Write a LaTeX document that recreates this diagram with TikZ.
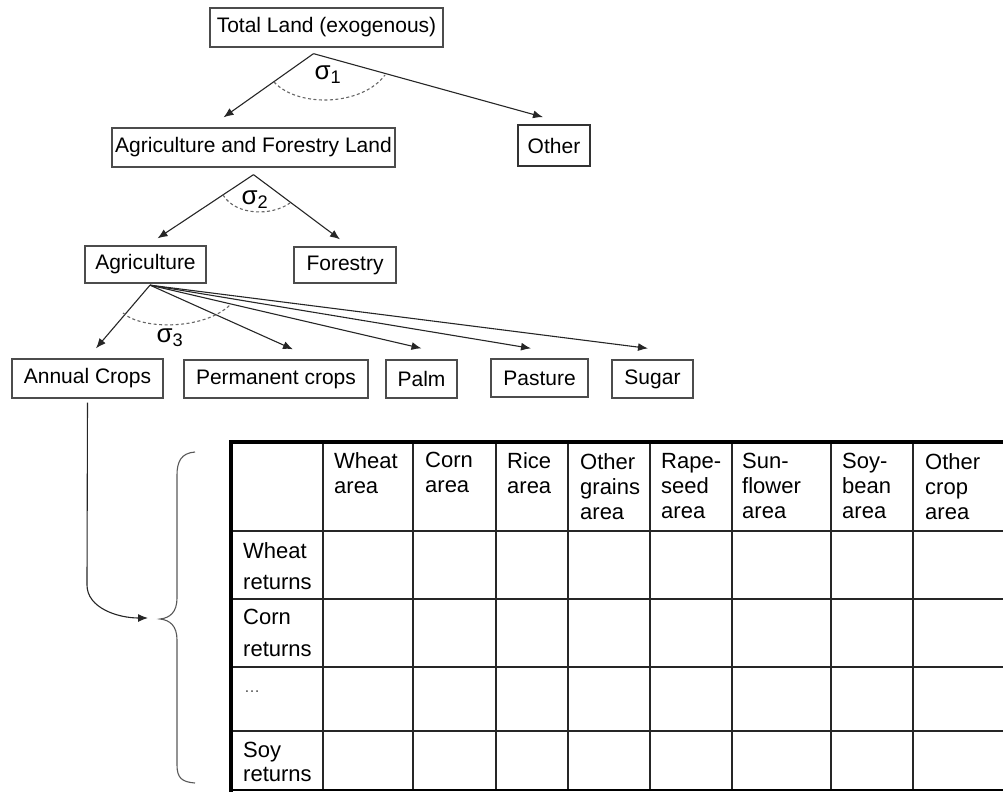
\documentclass[tikz,border=0pt]{standalone}
\usepackage{fontspec}
\setmainfont{Liberation Sans}
\usetikzlibrary{arrows.meta,calc}
\begin{document}
\begin{tikzpicture}[x=1pt,y=-1pt,
  box/.style={draw=black!70,line width=1.3pt,fill=white,inner sep=0pt,
    font=\fontsize{21}{25}\selectfont},
  link/.style={draw=black!85,line width=1.1pt,-{Latex[length=10pt,width=8pt]}},
  elas/.style={draw=black!60,line width=1.1pt,dash pattern=on 3pt off 2.5pt},
  sig/.style={font=\fontsize{26}{28}\selectfont,inner sep=0pt},
  cell/.style={anchor=north west,inner sep=0pt,align=left,
    font=\fontsize{22}{25}\selectfont},
  grid/.style={black!85,line width=1.2pt},
  frame/.style={black,line width=4.5pt}
]
\useasboundingbox (0,0) rectangle (1003,792);

% ---- land-use nesting tree ----
\node[box,minimum width=233pt,minimum height=39pt] (total)    at (326.5,27.5) {Total Land (exogenous)};
\node[box,minimum width=283pt,minimum height=39pt] (afl)      at (253.5,147.5) {Agriculture and Forestry Land};
\node[box,line width=1.8pt,draw=black!80,minimum width=72pt,minimum height=41pt] (other) at (554,145.5) {Other};
\node[box,minimum width=121pt,minimum height=37pt] (agri)     at (145.5,264.5) {Agriculture};
\node[box,minimum width=102pt,minimum height=36pt] (forestry) at (345,265) {Forestry};
\node[box,minimum width=151pt,minimum height=39pt] (ann)      at (87.5,378.5) {Annual Crops};
\node[box,minimum width=184pt,minimum height=38pt] (perm)     at (276,379) {Permanent crops};
\node[box,minimum width=71pt, minimum height=38pt] (palm)     at (421.5,379) {Palm};
\node[box,minimum width=97pt, minimum height=38pt] (pasture)  at (539.5,378) {Pasture};
\node[box,minimum width=81pt, minimum height=38pt] (sugar)    at (652.5,379) {Sugar};

% branching points and arrow ends
\coordinate (ap1) at ($(total.south)+(-13,6)$);
\coordinate (t1a) at ($(afl.north)+(-30,-10)$);
\coordinate (t1b) at ($(other.north)+(-11,-7)$);
\coordinate (ap2) at ($(afl.south)+(0,7)$);
\coordinate (t2a) at ($(agri.north)+(12,-7)$);
\coordinate (t2b) at ($(forestry.north)+(-5,-7)$);
\coordinate (ap3) at ($(agri.south)+(4.5,1.5)$);
\coordinate (t3a) at ($(ann.north)+(8.5,-10)$);
\coordinate (t3b) at ($(perm.north)+(17,-10)$);
\coordinate (t3c) at ($(palm.north)+(0,-11)$);
\coordinate (t3d) at ($(pasture.north)+(-8.5,-10)$);
\coordinate (t3e) at ($(sugar.north)+(-4.5,-11)$);

\draw[link] (ap1) -- (t1a);
\draw[link] (ap1) -- (t1b);
\draw[link] (ap2) -- (t2a);
\draw[link] (ap2) -- (t2b);
\foreach \t in {t3a,t3b,t3c,t3d,t3e} \draw[link] (ap3) -- (\t);

% substitution elasticities
\draw[elas] (274,82) .. controls (298,108) and (362,106) .. (385,75);
\draw[elas] (223,195) .. controls (236,216) and (272,216) .. (290,203);
\draw[elas] (123,313) .. controls (142,330) and (204,330) .. (230,305);
\node[sig] (s1) at (328,75) {σ\textsubscript{1}};
\node[sig] (s2) at (255,200) {σ\textsubscript{2}};
\node[sig] (s3) at (170,338) {σ\textsubscript{3}};

% ---- returns / area matrix ----
\foreach \x in {323,413,496,568,650,732,831,913} \draw[grid] (\x,442) -- (\x,790);
\foreach \y in {531,599,667,731} \draw[grid] (231,\y) -- (1010,\y);
\draw[black,line width=2pt] (231,790) -- (1010,790);
\draw[frame] (1010,442) -- (231,442) -- (231,792);

\node[cell] (h1) at (334,452) {Wheat\\area};
\node[cell] (h2) at (425,452) {Corn\\area};
\node[cell] (h3) at (507,452) {Rice\\area};
\node[cell] (h4) at (580,453) {Other\\grains\\area};
\node[cell] (h5) at (661,453) {Rape-\\seed\\area};
\node[cell] (h6) at (742,453) {Sun-\\flower\\area};
\node[cell] (h7) at (842,453) {Soy-\\bean\\area};
\node[cell] (h8) at (925,453) {Other\\crop\\area};

\node[cell,font=\fontsize{22}{31}\selectfont] (r1) at (243,542) {Wheat\\returns};
\node[cell,font=\fontsize{22}{32}\selectfont] (r2) at (243,609) {Corn\\returns};
\node[cell,anchor=base west,font=\fontsize{16}{20}\selectfont,text=black!70] (r3) at (244,692) {…};
\node[cell,font=\fontsize{22}{24}\selectfont] (r4) at (243,742) {Soy\\returns};

% brace gathering the rows, fed from the annual crops
\draw[black!65,line width=1.1pt]
  (195,452) .. controls (181,453) and (177,462) .. (177,475) -- (177,598)
  .. controls (177,612) and (170,618) .. (160,619)
  .. controls (170,620) and (177,626) .. (177,640) -- (177,765)
  .. controls (177,778) and (182,782) .. (195,783);
\coordinate (bt) at (148,618);
\draw[link,shorten <=4pt] (ann.south) -- (87,585) .. controls (87,608) and (118,618) .. (bt);
\end{tikzpicture}
\end{document}
